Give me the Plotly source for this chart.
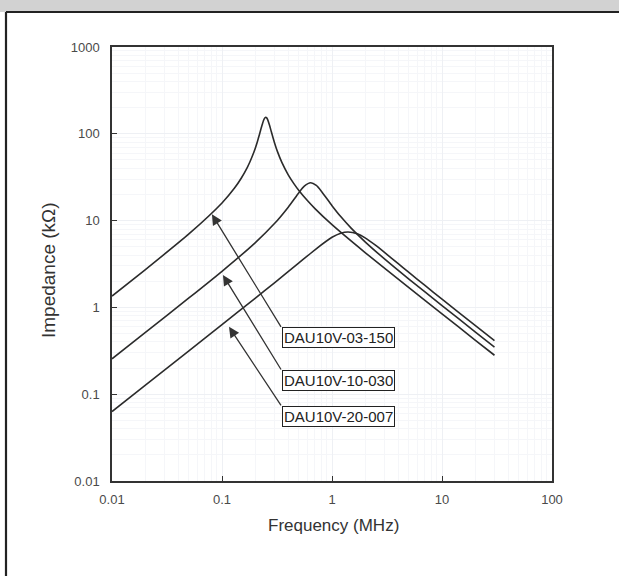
import numpy as np
import plotly.graph_objects as go

# Frequency (MHz) and impedance (kOhm)
freq_150 = [0.01, 0.02, 0.05, 0.1, 0.13, 0.15, 0.17, 0.18, 0.19, 0.2, 0.21, 0.22, 0.23, 0.24, 0.245, 0.25,
            0.255, 0.26, 0.27, 0.28, 0.3, 0.32, 0.35, 0.4, 0.45, 0.5, 0.6, 0.7, 1, 2, 5, 10, 20, 30]
z_150 = [1.35, 2.71, 7.02, 15.96, 23.7, 30.96, 41.1, 47.9, 56.5, 67.4, 81.7, 100.3, 123.0, 145.1, 152.4, 155,
         152.5, 145.8, 126.5, 107.2, 79.1, 61.9, 46.85, 33.7, 26.7, 22.23, 16.89, 13.74, 8.97, 4.28, 1.689, 0.843, 0.421, 0.281]

freq_030 = [0.01, 0.02, 0.05, 0.1, 0.2, 0.3, 0.4, 0.5, 0.56, 0.64, 0.72, 0.8, 1, 1.2, 1.5, 2, 3, 5, 10, 20, 30]
z_030 = [0.2555, 0.5114, 1.284, 2.607, 5.544, 9.242, 14.29, 20.98, 24.92, 27.3, 25.4, 21.82, 14.87, 11.13, 8.14, 5.70, 3.622, 2.121, 1.050, 0.5237, 0.349]

freq_007 = [0.01, 0.02, 0.05, 0.1, 0.2, 0.3, 0.5, 0.7, 1, 1.2, 1.4, 1.7, 2, 2.5, 3, 4, 5, 7, 10, 20, 30]
z_007 = [0.0632, 0.1265, 0.3162, 0.6331, 1.271, 1.920, 3.254, 4.613, 6.419, 7.164, 7.4, 7.034, 6.320, 5.168, 4.298, 3.186, 2.527, 1.789, 1.246, 0.620, 0.413]

labels = ["DAU10V-03-150", "DAU10V-10-030", "DAU10V-20-007"]
# arrow targets (MHz, kOhm)
arrow_f = [0.081, 0.102, 0.1158]
arrow_z = [11.8, 2.36, 0.597]

x_ticks = [0.01, 0.1, 1, 10, 100]
x_ticktext = ["0.01", "0.1", "1", "10", "100"]
y_ticks = [0.01, 0.1, 1, 10, 100, 1000]
y_ticktext = ["0.01", "0.1", "1", "10", "100", "1000"]

FONT = "Liberation Sans, Arial, Helvetica, sans-serif"
LINE = "#2b2b2b"

fig = go.Figure()
for f, z, name in [(freq_150, z_150, labels[0]), (freq_030, z_030, labels[1]), (freq_007, z_007, labels[2])]:
    fig.add_trace(go.Scatter(x=f, y=z, mode="lines", name=name,
                             line=dict(color=LINE, width=1.6, shape="spline", smoothing=0.6),
                             showlegend=False, hoverinfo="skip"))

W, H = 619, 576
ml, mr, mt, mb = 112, 67, 47, 95
pw, ph = W - ml - mr, H - mt - mb

def px(x):
    return (x - ml) / pw

def py(y):
    return (H - mb - y) / ph

axis_common = dict(
    type="log", showline=True, linecolor="#333333", linewidth=1.5, mirror=True,
    ticks="inside", ticklen=5, tickwidth=1.2, tickcolor="#333333",
    tickfont=dict(family=FONT, size=13, color="#4a4a4a"),
    showgrid=True, gridcolor="#eef0f4", gridwidth=1,
    minor=dict(showgrid=True, gridcolor="#f5f6f9", gridwidth=1, ticks="", dtick="D1"),
    zeroline=False,
)

fig.update_xaxes(range=[-2, 2], tickvals=x_ticks, ticktext=x_ticktext, ticklabelstandoff=6, **axis_common)
fig.update_yaxes(range=[-2, 3], tickvals=y_ticks, ticktext=y_ticktext, ticklabelstandoff=8, **axis_common)

annotations = []
# arrows
tails = [(70, 114), (59, 96), (53, 80)]
for f, z, (ax, ay) in zip(arrow_f, arrow_z, tails):
    annotations.append(dict(x=np.log10(f), y=np.log10(z), xref="x", yref="y",
                            ax=ax, ay=ay, axref="pixel", ayref="pixel", text="",
                            showarrow=True, arrowhead=2, arrowsize=1.6, arrowwidth=1.3,
                            arrowcolor="#333333", standoff=0))
# label boxes
box_tops = [327, 370, 406]
for lab, top in zip(labels, box_tops):
    annotations.append(dict(x=px(282), y=py(top), xref="paper", yref="paper",
                            xanchor="left", yanchor="top", text=lab, showarrow=False,
                            font=dict(family=FONT, size=15, color="#222222"),
                            bordercolor="#222222", borderwidth=1, borderpad=1,
                            bgcolor="white"))
# axis titles
annotations.append(dict(x=px(48), y=py(270), xref="paper", yref="paper", text="Impedance (kΩ)",
                        textangle=-90, showarrow=False, xanchor="center", yanchor="middle",
                        font=dict(family=FONT, size=19, color="#333333")))
annotations.append(dict(x=px(333), y=py(525), xref="paper", yref="paper", text="Frequency (MHz)",
                        showarrow=False, xanchor="center", yanchor="middle",
                        font=dict(family=FONT, size=17, color="#333333")))

shapes = [
    # grey strip at the very top
    dict(type="rect", xref="paper", yref="paper", x0=px(0), x1=px(W), y0=py(12), y1=py(0),
         fillcolor="#d2d2d2", line=dict(width=0), layer="below"),
    # frame lines
    dict(type="line", xref="paper", yref="paper", x0=px(6), x1=px(W), y0=py(12), y1=py(12),
         line=dict(color="#222222", width=2.2)),
    dict(type="line", xref="paper", yref="paper", x0=px(6), x1=px(6), y0=py(12), y1=py(H),
         line=dict(color="#222222", width=2.2)),
]

fig.update_layout(
    width=W, height=H,
    margin=dict(l=ml, r=mr, t=mt, b=mb),
    paper_bgcolor="white", plot_bgcolor="white",
    annotations=annotations, shapes=shapes,
    font=dict(family=FONT),
)

fig.write_html("out.html", config={"displayModeBar": False},
               post_script="document.body.style.margin='0px';document.body.style.overflow='hidden';")
